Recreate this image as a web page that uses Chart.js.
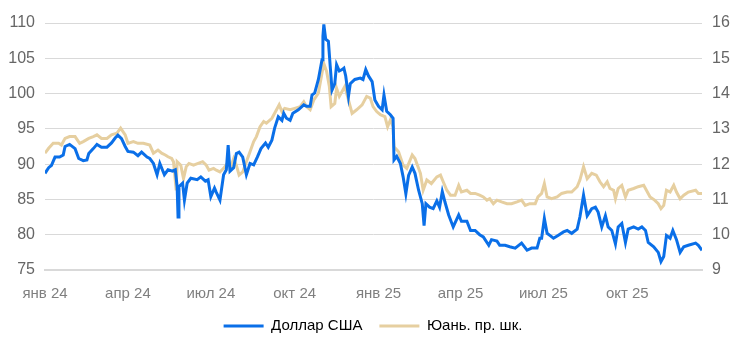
<!DOCTYPE html>
<html lang="ru">
<head>
<meta charset="utf-8">
<title>Доллар США и юань</title>
<script src="https://cdn.jsdelivr.net/npm/chart.js@4.4.0/dist/chart.umd.min.js"></script>
<style>
  html, body { margin: 0; padding: 0; background: #fff; }
  #wrap { width: 746px; height: 355px; position: relative; }
</style>
</head>
<body>
<div id="wrap"><canvas id="chart-fx"></canvas></div>
<script>
/* ── x axis: days since 1 Jan 2024, labels at quarter starts ── */
const tickDays   = [0, 91, 182, 274, 366, 456, 547, 639];
const tickLabels = ['янв 24', 'апр 24', 'июл 24', 'окт 24', 'янв 25', 'апр 25', 'июл 25', 'окт 25'];

/* ── Доллар США, руб. (left axis) ── */
const usdDays = [
  0, 4, 7, 11, 16, 20, 22, 27, 33, 37, 42, 46, 48, 53, 57, 62, 68, 73, 77, 80,
  84, 88, 91, 97, 102, 106, 112, 115, 119, 123, 126, 131, 135, 140, 143, 145, 146, 147, 151, 153,
  156, 160, 167, 171, 176, 179, 182, 186, 188, 192, 196, 199, 201, 203, 207, 210, 213, 217, 221, 225,
  229, 233, 237, 242, 245, 249, 252, 256, 260, 262, 265, 269, 272, 278, 284, 287, 291, 293, 296, 300,
  304, 305, 306, 308, 311, 313, 315, 318, 320, 323, 326, 328, 330, 333, 335, 340, 346, 349, 352, 355,
  359, 362, 366, 370, 372, 375, 379, 382, 383, 386, 390, 393, 396, 399, 403, 406, 410, 414, 416, 418,
  422, 426, 430, 433, 436, 439, 443, 448, 454, 457, 463, 467, 472, 477, 481, 487, 490, 496, 499, 505,
  510, 516, 523, 529, 534, 540, 543, 545, 548, 551, 554, 558, 563, 569, 573, 578, 584, 587, 591, 595,
  600, 604, 607, 611, 615, 618, 622, 626, 629, 633, 637, 640, 646, 651, 655, 659, 662, 668, 673, 676,
  679, 682, 686, 689, 693, 697, 701, 706, 714, 717, 721
];
const usdRate = [
  88.7, 89.5, 89.8, 91.0, 91.0, 91.3, 92.5, 92.8, 92.2, 90.8, 90.5, 90.6, 91.5, 92.2, 92.8, 92.4, 92.4, 93.0, 93.7, 94.1,
  93.6, 92.5, 91.8, 91.7, 91.2, 91.7, 91.0, 90.8, 90.1, 88.5, 90.1, 88.5, 89.2, 89.0, 89.2, 86.8, 82.5, 86.8, 87.3, 84.9,
  87.3, 88.0, 87.8, 88.2, 87.6, 87.8, 85.4, 86.6, 86.0, 84.9, 88.5, 89.2, 92.7, 89.0, 89.5, 91.5, 91.7, 91.0, 88.5, 90.1,
  89.9, 91.0, 92.2, 93.0, 92.4, 93.4, 95.1, 96.7, 96.2, 97.2, 96.5, 96.2, 97.2, 97.7, 98.4, 98.2, 98.2, 99.8, 100.1, 102.0,
  104.8, 108.1, 109.8, 107.7, 107.4, 103.9, 100.5, 101.4, 104.1, 103.2, 103.4, 103.6, 102.5, 99.6, 101.4, 102.0, 102.2, 102.0, 103.4, 102.5,
  101.7, 99.1, 98.2, 97.7, 99.8, 97.5, 97.0, 96.5, 90.6, 91.1, 90.1, 88.2, 85.8, 88.4, 89.6, 88.7, 86.3, 84.4, 81.3, 84.4,
  83.9, 83.7, 84.8, 83.9, 86.1, 84.6, 82.8, 81.1, 82.8, 81.9, 81.9, 80.6, 80.6, 80.0, 79.7, 78.5, 79.3, 79.1, 78.5, 78.5,
  78.3, 78.1, 78.8, 77.8, 78.1, 78.1, 79.5, 79.5, 82.3, 80.2, 79.9, 79.5, 79.9, 80.4, 80.6, 80.2, 80.8, 82.5, 85.6, 82.7,
  83.7, 83.9, 83.2, 81.1, 82.7, 81.1, 80.6, 78.7, 81.1, 81.6, 78.9, 80.8, 81.1, 80.8, 81.1, 80.6, 78.9, 78.3, 77.5, 76.2,
  76.9, 79.9, 79.5, 80.6, 79.3, 77.5, 78.3, 78.5, 78.8, 78.5, 77.8
];

/* ── Юань, руб. (right axis) ── */
const cnyDays = [
  0, 4, 9, 15, 18, 22, 27, 33, 38, 42, 48, 53, 57, 62, 68, 73, 79, 83, 88, 91,
  97, 102, 108, 115, 119, 124, 128, 132, 135, 139, 141, 144, 145, 149, 152, 155, 158, 163, 168, 173,
  177, 180, 185, 188, 192, 196, 200, 204, 207, 210, 213, 217, 221, 225, 229, 232, 236, 240, 243, 249,
  252, 257, 260, 263, 269, 274, 280, 284, 287, 291, 295, 300, 304, 306, 309, 312, 314, 318, 320, 323,
  326, 329, 333, 337, 342, 348, 353, 357, 360, 364, 368, 373, 376, 379, 382, 383, 388, 393, 397, 403,
  406, 412, 415, 419, 424, 430, 434, 437, 441, 445, 450, 454, 457, 463, 467, 472, 477, 481, 485, 488,
  492, 496, 501, 507, 512, 518, 523, 527, 532, 538, 541, 545, 548, 551, 556, 562, 567, 573, 578, 584,
  587, 591, 595, 600, 605, 609, 613, 617, 620, 624, 626, 629, 633, 637, 640, 646, 651, 657, 660, 664,
  669, 673, 676, 679, 682, 686, 690, 693, 697, 701, 706, 714, 717, 721
];
const cnyRate = [
  12.31, 12.45, 12.59, 12.59, 12.54, 12.73, 12.78, 12.78, 12.59, 12.64, 12.73, 12.78, 12.83, 12.73, 12.73, 12.83, 12.88, 13.02, 12.83, 12.59,
  12.64, 12.59, 12.59, 12.54, 12.31, 12.40, 12.31, 12.26, 12.21, 12.16, 12.07, 11.26, 12.07, 11.97, 11.59, 11.93, 12.02, 11.97, 12.02, 12.07,
  11.97, 11.83, 11.88, 11.83, 11.78, 11.88, 12.02, 11.93, 12.16, 11.97, 11.69, 11.78, 12.07, 12.35, 12.64, 12.78, 13.06, 13.21, 13.16, 13.30,
  13.44, 13.68, 13.49, 13.58, 13.54, 13.58, 13.63, 13.77, 13.63, 13.54, 13.82, 14.01, 14.58, 14.85, 14.63, 14.21, 13.63, 13.72, 14.15, 13.92,
  14.06, 14.20, 13.82, 13.44, 13.54, 13.68, 13.92, 13.87, 13.63, 13.49, 13.40, 13.35, 13.06, 13.25, 13.06, 12.49, 12.35, 11.97, 11.88, 12.26,
  12.16, 11.74, 11.26, 11.55, 11.45, 11.64, 11.69, 11.50, 11.26, 11.12, 11.12, 11.40, 11.21, 11.26, 11.17, 11.17, 11.12, 11.07, 10.98, 11.02,
  10.88, 10.98, 10.93, 10.88, 10.88, 10.93, 10.98, 10.83, 10.88, 10.88, 11.07, 11.17, 11.45, 11.07, 11.02, 11.07, 11.17, 11.21, 11.21, 11.36,
  11.55, 11.93, 11.59, 11.74, 11.69, 11.50, 11.36, 11.50, 11.31, 11.26, 11.02, 11.31, 11.40, 11.07, 11.26, 11.31, 11.36, 11.40, 11.26, 11.07,
  10.98, 10.88, 10.74, 10.83, 11.26, 11.21, 11.40, 11.21, 11.02, 11.12, 11.21, 11.26, 11.17, 11.17
];

/* ── Colours ── */
const USD_COLOR = '#0a6fe8';
const CNY_COLOR = '#e6cfa0';
const GRID      = '#d9d9d9';
const FONT      = 'Arial, "Liberation Sans", sans-serif';

const toPoints = (days, vals) => days.map((d, i) => ({ x: d, y: vals[i] }));

new Chart(document.getElementById('chart-fx'), {
  type: 'line',
  data: {
    datasets: [
      {
        label: 'Доллар США',
        data: toPoints(usdDays, usdRate),
        yAxisID: 'y',
        borderColor: USD_COLOR,
        backgroundColor: USD_COLOR,
        borderWidth: 3,
        pointRadius: 0,
        tension: 0,
      },
      {
        label: 'Юань. пр. шк.',
        data: toPoints(cnyDays, cnyRate),
        yAxisID: 'y1',
        borderColor: CNY_COLOR,
        backgroundColor: CNY_COLOR,
        borderWidth: 3,
        pointRadius: 0,
        tension: 0,
      },
    ],
  },
  options: {
    responsive: true,
    maintainAspectRatio: false,
    animation: false,
    layout: { padding: { top: 23, bottom: 11.5, left: 0, right: 0 } },
    plugins: {
      tooltip: { enabled: false },
      legend: {
        position: 'bottom',
        labels: {
          usePointStyle: true,
          pointStyle: 'line',
          pointStyleWidth: 40,
          color: '#000',
          font: { family: FONT, size: 15 },
          padding: 17,
        },
      },
    },
    scales: {
      x: {
        type: 'linear',
        min: 0,
        max: 721,
        afterFit: s => { s.height = 31.5; },
        grid: { display: false, drawTicks: false },
        border: { display: true, color: GRID, width: 2 },
        afterBuildTicks: scale => { scale.ticks = tickDays.map(v => ({ value: v })); },
        ticks: {
          autoSkip: false,
          maxRotation: 0,
          padding: 15,
          color: '#7f7f7f',
          font: { family: FONT, size: 15 },
          callback: (v, i) => tickLabels[i],
        },
      },
      y: {
        position: 'left',
        min: 75,
        max: 110,
        afterFit: s => { s.width = 45; },
        grid: { color: GRID, drawTicks: false },
        border: { display: false },
        ticks: {
          stepSize: 5,
          padding: 10,
          color: '#666',
          font: { family: FONT, size: 16 },
        },
      },
      y1: {
        position: 'right',
        min: 9,
        max: 16,
        afterFit: s => { s.width = 44; },
        grid: { drawOnChartArea: false, drawTicks: false },
        border: { display: false },
        ticks: {
          stepSize: 1,
          padding: 10,
          color: '#666',
          font: { family: FONT, size: 16 },
        },
      },
    },
  },
});
</script>
</body>
</html>
